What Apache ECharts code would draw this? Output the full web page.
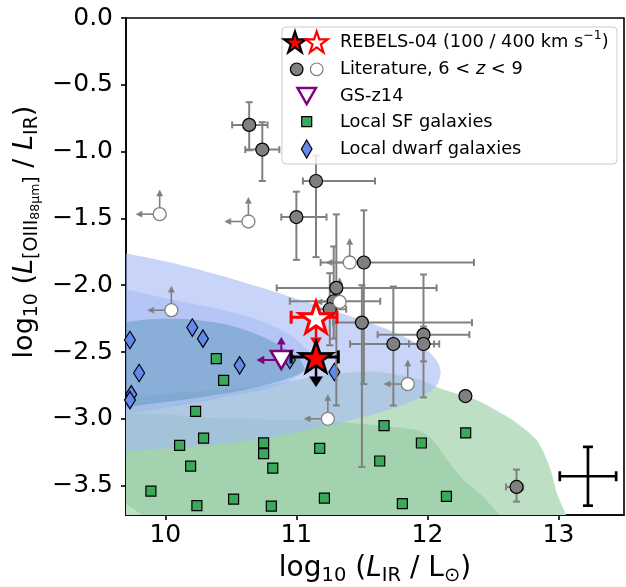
<!DOCTYPE html>
<html><head><meta charset="utf-8">
<script src="https://cdn.jsdelivr.net/npm/echarts@6/dist/echarts.min.js"></script>
<style>html,body{margin:0;padding:0;background:#fff}#main{width:626px;height:587px}</style>
</head><body><div id="main"></div>
<script>
// ---------- axes ----------
const xTicks = [10, 11, 12, 13];
const yTicks = [0, -0.5, -1, -1.5, -2, -2.5, -3, -3.5];
const X_MIN = 9.7, X_MAX = 13.5, Y_MIN = -3.72, Y_MAX = 0;

// ---------- REBELS-04 ----------
const reb100 = [11.15, -2.537];      // 100 km/s (filled)
const reb100Xerr = [10.96, 11.32];
const reb100Lim = -2.76;             // upper-limit arrow end
const reb400 = [11.15, -2.24];       // 400 km/s (open)
const reb400Xerr = [10.96, 11.31];
const reb400Lim = -2.46;

// ---------- GS-z14 ----------
const gsz14 = [10.885, -2.56];
const gsz14LimX = 10.70;
const gsz14LimY = -2.39;

// ---------- Literature detections ----------
const litX   = [10.64, 10.74, 11.15, 11.00, 11.515, 11.305, 11.285, 11.255, 11.50, 11.97, 11.74, 11.97, 12.29, 12.68];
const litY   = [-0.80, -0.985, -1.22, -1.49, -1.83, -2.02, -2.12, -2.18, -2.28, -2.37, -2.44, -2.44, -2.83, -3.51];
const litXlo = [10.51, 10.61, 11.05, 10.885, 11.185, 10.85, 10.95, 11.13, 11.28, 11.62, 11.41, 11.86, 12.29, 12.60];
const litXhi = [10.78, 10.87, 11.60, 11.23, 12.355, 12.07, 11.64, 11.38, 12.34, 12.32, 12.05, 12.09, 12.29, 12.73];
const litYlo = [-0.99, -1.22, -1.79, -1.81, -2.74, -2.90, -2.40, -2.45, -3.36, -2.84, -2.90, -2.57, -2.83, -3.62];
const litYhi = [-0.63, -0.78, -1.03, -1.30, -1.44, -1.47, -1.71, -1.91, -2.00, -1.92, -2.01, -2.31, -2.83, -3.38];

// ---------- Literature limits (open) ----------
const openX = [9.957, 10.634, 11.407, 10.046, 11.85, 11.24, 11.33];
const openY = [-1.468, -1.523, -1.83, -2.187, -2.74, -3.0, -2.125];
const limLen = 0.18;

// ---------- Local SF galaxies ----------
const sfX = [10.389, 10.445, 10.231, 10.292, 10.109, 10.193, 9.89, 10.241, 10.521, 10.75, 10.75, 10.82, 10.809, 11.178, 11.214, 10.13, 11.669, 11.954, 11.636, 12.292, 12.145, 11.809];
const sfY = [-2.549, -2.712, -2.944, -3.144, -3.199, -3.354, -3.541, -3.650, -3.601, -3.18, -3.261, -3.369, -3.653, -3.221, -3.593, -3.735, -3.051, -3.181, -3.316, -3.106, -3.581, -3.635];

// ---------- Local dwarf galaxies ----------
const dwX = [9.73, 10.206, 10.287, 10.567, 9.80, 9.74, 9.73, 10.95, 11.29];
const dwY = [-2.41, -2.317, -2.40, -2.60, -2.657, -2.817, -2.86, -2.56, -2.65];

// ---------- typical uncertainty ----------
const sysPt = [13.225, -3.43];
const sysErr = [0.215, 0.22];

// ---------- density contours ----------
const greenOuter = [[9.5,-2.84],[9.689,-2.839],[10.163,-2.80],[10.62,-2.765],[10.93,-2.72],[11.25,-2.67],[11.56,-2.645],[11.75,-2.665],[11.95,-2.71],[12.094,-2.772],[12.285,-2.83],[12.40,-2.87],[12.652,-3.011],[12.835,-3.161],[12.934,-3.363],[12.988,-3.558],[13.064,-3.738],[13.10,-3.90],[9.5,-3.90]];
const greenInner = [[9.5,-3.00],[10.5,-3.00],[11.25,-3.02],[11.64,-3.05],[11.94,-3.09],[12.05,-3.17],[12.17,-3.33],[12.29,-3.47],[12.42,-3.58],[12.56,-3.738],[12.62,-3.90],[9.95,-3.90],[9.842,-3.738],[9.689,-3.633],[9.5,-3.55]];
const blueL1 = [[9.5,-1.74],[9.689,-1.760],[10.033,-1.828],[10.415,-1.925],[10.796,-2.037],[11.178,-2.157],[11.506,-2.262],[11.766,-2.360],[11.979,-2.472],[12.079,-2.577],[12.101,-2.659],[12.071,-2.749],[11.979,-2.824],[11.789,-2.906],[11.506,-2.989],[11.254,-3.049],[10.949,-3.11],[10.666,-3.161],[10.163,-3.213],[9.689,-3.243],[9.5,-3.25]];
const blueL2 = [[9.5,-2.02],[9.689,-2.030],[10.033,-2.105],[10.415,-2.18],[10.72,-2.262],[10.949,-2.37],[11.08,-2.48],[11.12,-2.58],[10.9,-2.74],[10.5,-2.83],[10.0,-2.92],[9.689,-2.96],[9.5,-2.97]];
const blueL3 = [[9.5,-2.29],[9.689,-2.277],[9.880,-2.255],[10.185,-2.255],[10.491,-2.30],[10.735,-2.382],[10.911,-2.472],[11.03,-2.56],[11.06,-2.64],[10.90,-2.71],[10.62,-2.78],[10.262,-2.84],[9.953,-2.88],[9.689,-2.914],[9.5,-2.93]];

// ================= rendering =================
const FONT = '"DejaVu Sans", "Liberation Sans", sans-serif';
const STAR = 'path://M50,0 L61.8,35.1 L97.6,34.5 L68.8,56.1 L79.4,90.5 L50,70 L20.6,90.5 L31.2,56.1 L2.4,34.5 L38.2,35.1 Z';
const GRAY = '#808080';

function starPts(cx, cy, R) {
  const pts = [], r = R * 0.382;
  for (let k = 0; k < 10; k++) {
    const a = -Math.PI / 2 + k * Math.PI / 5, rr = k % 2 ? r : R;
    pts.push([cx + rr * Math.cos(a), cy + rr * Math.sin(a)]);
  }
  return pts;
}

function polySeries(pts, color, z) {
  return {
    type: 'custom', coordinateSystem: 'cartesian2d', clip: true, silent: true, z: z,
    data: [[pts[0][0], pts[0][1]]],
    renderItem: function (params, api) {
      return { type: 'polygon', shape: { points: pts.map(p => api.coord(p)), smooth: 0.25 },
               style: { fill: color, stroke: 'none' } };
    }
  };
}

function errSeries(data, color, lw, cap, z) {
  return {
    type: 'custom', coordinateSystem: 'cartesian2d', clip: true, silent: true, z: z,
    data: data,
    renderItem: function (params, api) {
      const x = api.value(0), y = api.value(1);
      const xl = api.value(2), xh = api.value(3), yl = api.value(4), yh = api.value(5);
      const st = { stroke: color, lineWidth: lw, fill: 'none' };
      const ch = [];
      if (xh > xl) {
        const a = api.coord([xl, y]), b = api.coord([xh, y]);
        ch.push({ type: 'line', shape: { x1: a[0], y1: a[1], x2: b[0], y2: b[1] }, style: st });
        ch.push({ type: 'line', shape: { x1: a[0], y1: a[1] - cap, x2: a[0], y2: a[1] + cap }, style: st });
        ch.push({ type: 'line', shape: { x1: b[0], y1: b[1] - cap, x2: b[0], y2: b[1] + cap }, style: st });
      }
      if (yh > yl) {
        const a = api.coord([x, yl]), b = api.coord([x, yh]);
        ch.push({ type: 'line', shape: { x1: a[0], y1: a[1], x2: b[0], y2: b[1] }, style: st });
        ch.push({ type: 'line', shape: { x1: a[0] - cap, y1: a[1], x2: a[0] + cap, y2: a[1] }, style: st });
        ch.push({ type: 'line', shape: { x1: b[0] - cap, y1: b[1], x2: b[0] + cap, y2: b[1] }, style: st });
      }
      return { type: 'group', children: ch };
    }
  };
}

function arrowSeries(data, color, lw, headW, headL, z) {
  return {
    type: 'custom', coordinateSystem: 'cartesian2d', clip: false, silent: true, z: z,
    data: data,
    renderItem: function (params, api) {
      const p0 = api.coord([api.value(0), api.value(1)]);
      const p1 = api.coord([api.value(2), api.value(3)]);
      const dx = p1[0] - p0[0], dy = p1[1] - p0[1];
      const len = Math.hypot(dx, dy) || 1;
      const ux = dx / len, uy = dy / len;
      const bx = p1[0] - ux * headL, by = p1[1] - uy * headL;
      return { type: 'group', children: [
        { type: 'line', shape: { x1: p0[0], y1: p0[1], x2: bx, y2: by }, style: { stroke: color, lineWidth: lw } },
        { type: 'polygon', shape: { points: [[p1[0], p1[1]], [bx - uy * headW / 2, by + ux * headW / 2], [bx + uy * headW / 2, by - ux * headW / 2]] },
          style: { fill: color, stroke: color, lineWidth: 0.5 } }
      ] };
    }
  };
}

// rich label from segments, measured with canvas
const mctx = document.createElement('canvas').getContext('2d');
function segLabel(segs, cx, cy, rot) {
  let x = 0; const items = [];
  segs.forEach(s => {
    const font = (s.it ? 'italic ' : '') + s.s + 'px ' + FONT;
    mctx.font = font;
    const w = mctx.measureText(s.t).width;
    items.push({ x: x, dy: s.dy || 0, font: font, t: s.t });
    x += w;
  });
  const W = x;
  return {
    type: 'group', x: cx, y: cy, rotation: rot || 0, z: 100,
    children: items.map(it => ({
      type: 'text', x: it.x - W / 2, y: it.dy, z: 100,
      style: { text: it.t, font: it.font, fill: '#000', align: 'left', verticalAlign: 'middle' }
    }))
  };
}
function segText(segs, x0, cy) {
  let x = x0; const ch = [];
  segs.forEach(s => {
    const font = (s.it ? 'italic ' : '') + s.s + 'px ' + FONT;
    mctx.font = font;
    const w = mctx.measureText(s.t).width;
    ch.push({ type: 'text', x: x, y: cy + (s.dy || 0), z: 102,
      style: { text: s.t, font: font, fill: '#000', align: 'left', verticalAlign: 'middle' } });
    x += w;
  });
  return ch;
}

const litErrData = litX.map((x, i) => [x, litY[i], litXlo[i], litXhi[i], litYlo[i], litYhi[i]]);
const openArrowData = [];
openX.forEach((x, i) => {
  openArrowData.push([x, openY[i], x - limLen, openY[i]]);
  openArrowData.push([x, openY[i], x, openY[i] + limLen]);
});

const chart = echarts.init(document.getElementById('main'), null, { renderer: 'canvas' });

// legend graphics
const LX = 282, LY = 27;
const LFS = 17.8;
const legendEls = [
  { type: 'rect', shape: { x: LX, y: LY, width: 335, height: 137, r: 4 }, z: 100,
    style: { fill: 'rgba(255,255,255,0.8)', stroke: '#cccccc', lineWidth: 1 } },
  { type: 'polygon', z: 101, shape: { points: starPts(295, 43, 11.5) }, style: { fill: '#ff0000', stroke: '#000', lineWidth: 2.2 } },
  { type: 'polygon', z: 101, shape: { points: starPts(316.7, 43, 11.5) }, style: { fill: '#fff', stroke: '#ff0000', lineWidth: 2.2 } },
  { type: 'circle', z: 101, shape: { cx: 296.7, cy: 69.3, r: 6.3 }, style: { fill: GRAY, stroke: '#000', lineWidth: 1.2 } },
  { type: 'circle', z: 101, shape: { cx: 316.7, cy: 69.3, r: 6.3 }, style: { fill: '#fff', stroke: GRAY, lineWidth: 1.2 } },
  { type: 'polygon', z: 101, shape: { points: [[297.5, 88], [315.9, 88], [306.7, 104]] }, style: { fill: '#fff', stroke: '#800080', lineWidth: 2.5 } },
  { type: 'rect', z: 101, shape: { x: 301.7, y: 116.7, width: 10, height: 10 }, style: { fill: '#3ca85a', stroke: '#000', lineWidth: 1.2 } },
  { type: 'polygon', z: 101, shape: { points: [[306.7, 140], [312, 149], [306.7, 158], [301.4, 149]] }, style: { fill: '#6389ee', stroke: '#000', lineWidth: 1.2 } }
].concat(
  segText([{ t: 'REBELS-04 (100 / 400 km s', s: LFS }, { t: '\u22121', s: 12.5, dy: -6 }, { t: ')', s: LFS }], 340, 42),
  segText([{ t: 'Literature, 6 < ', s: LFS }, { t: 'z', s: LFS, it: true }, { t: ' < 9', s: LFS }], 340, 69),
  segText([{ t: 'GS-z14', s: LFS }], 340, 96),
  segText([{ t: 'Local SF galaxies', s: LFS }], 340, 122),
  segText([{ t: 'Local dwarf galaxies', s: LFS }], 340, 149)
);

const xTitle = segLabel([
  { t: 'log', s: 28 }, { t: '10', s: 19.5, dy: 7 }, { t: ' (', s: 28 }, { t: 'L', s: 28, it: true },
  { t: 'IR', s: 19.5, dy: 7 }, { t: ' / L', s: 28 }, { t: '\u2299', s: 19.5, dy: 7 }, { t: ')', s: 28 }
], 375, 569, 0);
const yTitle = segLabel([
  { t: 'log', s: 27 }, { t: '10', s: 19, dy: 7 }, { t: ' (', s: 27 }, { t: 'L', s: 27, it: true },
  { t: '[OIII', s: 19, dy: 7 }, { t: '88\u03bcm', s: 12.5, dy: 11 }, { t: ']', s: 19, dy: 7 },
  { t: ' / ', s: 27 }, { t: 'L', s: 27, it: true }, { t: 'IR', s: 19, dy: 7 }, { t: ')', s: 27 }
], 25, 232, Math.PI / 2);

const fmt = v => (Math.abs(v) < 1e-9 ? '0.0' : v.toFixed(1).replace('-', '\u2212'));

const option = {
  animation: false,
  backgroundColor: '#fff',
  grid: { left: 126, right: 2, top: 18, bottom: 72, show: true, borderColor: '#000', borderWidth: 1.6, backgroundColor: 'transparent' },
  xAxis: {
    type: 'value', min: X_MIN, max: X_MAX,
    axisLine: { show: true, onZero: false, lineStyle: { color: '#000', width: 1.6 } },
    axisTick: { show: true, customValues: xTicks, length: 5, lineStyle: { color: '#000', width: 1.6 } },
    axisLabel: { customValues: xTicks, fontSize: 25, fontFamily: FONT, color: '#000', margin: 8, formatter: v => String(v) },
    splitLine: { show: false }
  },
  yAxis: {
    type: 'value', min: Y_MIN, max: Y_MAX,
    axisLine: { show: true, onZero: false, lineStyle: { color: '#000', width: 1.6 } },
    axisTick: { show: true, customValues: yTicks, length: 5, lineStyle: { color: '#000', width: 1.6 } },
    axisLabel: { customValues: yTicks, fontSize: 25, fontFamily: FONT, color: '#000', margin: 13, formatter: fmt },
    splitLine: { show: false }
  },
  graphic: [xTitle, yTitle].concat(legendEls),
  series: [
    polySeries(greenOuter, '#bde0c5', 1),
    polySeries(greenInner, '#a2d2ae', 1),
    polySeries(blueL1, 'rgba(163,185,243,0.6)', 1),
    polySeries(blueL2, 'rgba(140,166,241,0.3)', 1),
    polySeries(blueL3, 'rgba(94,149,186,0.5)', 1),
    { type: 'scatter', z: 3, silent: true, symbol: 'rect', symbolSize: 10,
      itemStyle: { color: '#3ca85a', borderColor: '#000', borderWidth: 1.2, opacity: 1 },
      data: sfX.map((x, i) => [x, sfY[i]]) },
    { type: 'scatter', z: 3, silent: true, symbol: 'diamond', symbolSize: [11, 17.5],
      itemStyle: { color: '#6389ee', borderColor: '#000', borderWidth: 1.2, opacity: 1 },
      data: dwX.map((x, i) => [x, dwY[i]]) },
    errSeries(litErrData, GRAY, 2, 3.5, 4),
    { type: 'scatter', z: 5, silent: true, symbol: 'circle', symbolSize: 13,
      itemStyle: { color: GRAY, borderColor: '#000', borderWidth: 1.2, opacity: 1 },
      data: litX.map((x, i) => [x, litY[i]]) },
    arrowSeries(openArrowData, GRAY, 1.6, 6, 6, 5),
    { type: 'scatter', z: 6, silent: true, symbol: 'circle', symbolSize: 13,
      itemStyle: { color: '#fff', borderColor: GRAY, borderWidth: 1.3, opacity: 1 },
      data: openX.map((x, i) => [x, openY[i]]) },
    arrowSeries([[gsz14[0], gsz14[1], gsz14LimX, gsz14[1]], [gsz14[0], gsz14[1], gsz14[0], gsz14LimY]], '#800080', 2, 8, 7, 7),
    { type: 'scatter', z: 7, silent: true, symbol: 'triangle', symbolRotate: 180, symbolSize: [21, 18],
      itemStyle: { color: '#fff', borderColor: '#800080', borderWidth: 2.5, opacity: 1 },
      data: [gsz14] },
    errSeries([[reb400[0], reb400[1], reb400Xerr[0], reb400Xerr[1], reb400[1], reb400[1]]], '#ff0000', 3, 6.5, 8),
    arrowSeries([[reb400[0], reb400[1], reb400[0], reb400Lim]], '#ff0000', 2.5, 11, 9, 8),
    { type: 'scatter', z: 8, silent: true, symbol: STAR, symbolSize: [33, 31],
      itemStyle: { color: '#fff', borderColor: '#ff0000', borderWidth: 3, opacity: 1 },
      data: [reb400] },
    errSeries([[reb100[0], reb100[1], reb100Xerr[0], reb100Xerr[1], reb100[1], reb100[1]]], '#000', 3, 6.5, 9),
    arrowSeries([[reb100[0], reb100[1], reb100[0], reb100Lim]], '#000', 2.5, 13, 10, 9),
    { type: 'scatter', z: 9, silent: true, symbol: STAR, symbolSize: [33, 31],
      itemStyle: { color: '#ff0000', borderColor: '#000', borderWidth: 2.5, opacity: 1 },
      data: [reb100] },
    errSeries([[sysPt[0], sysPt[1], sysPt[0] - sysErr[0], sysPt[0] + sysErr[0], sysPt[1] - sysErr[1], sysPt[1] + sysErr[1]]], '#000', 2.7, 5, 9)
  ]
};
chart.setOption(option);
</script></body></html>
